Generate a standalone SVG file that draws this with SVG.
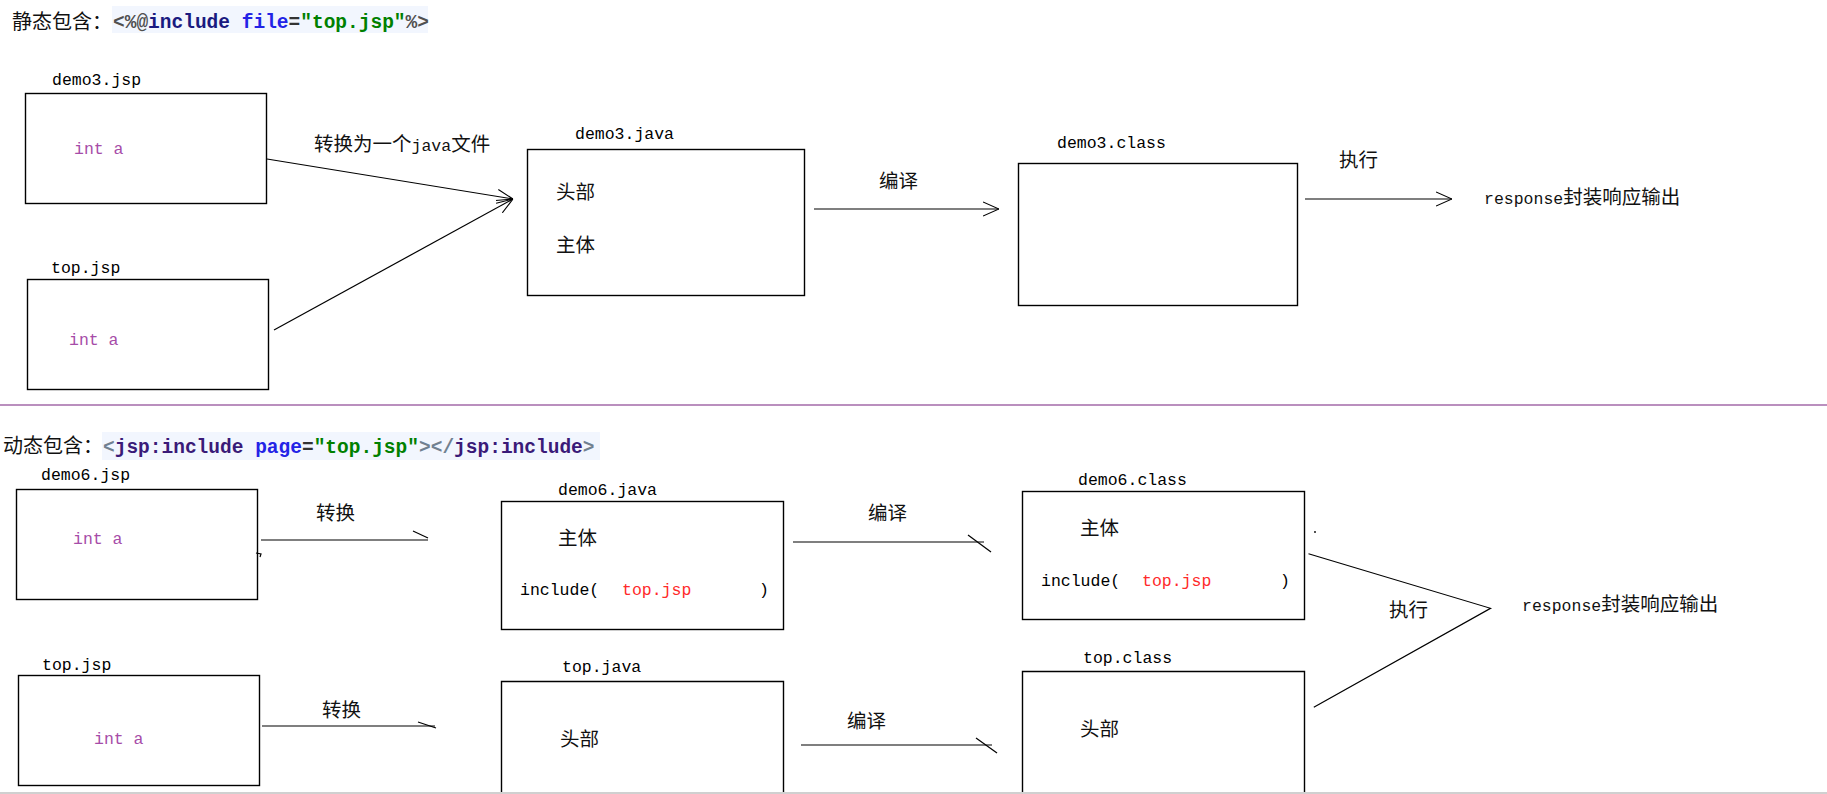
<svg xmlns="http://www.w3.org/2000/svg" width="1827" height="794" viewBox="0 0 1827 794">
<style>
.box{fill:none;stroke:#000;stroke-width:1.4}
.lbl{font-family:"Liberation Mono",monospace;font-size:16.5px;fill:#000}
.cjk{font-family:"Noto Sans CJK SC",sans-serif;font-size:19.5px;fill:#111}
.mono{font-family:"Liberation Mono",monospace;font-size:16.5px}
.var{fill:#a64ca8}
.red{fill:#ff2a2a}
.code{font-family:"Liberation Mono",monospace;font-size:19.5px;font-weight:bold}
.conn{stroke:#000;stroke-width:1.2;fill:none}
.hl{fill:#f2f6fe}
</style>
<defs>
<marker id="open" viewBox="0 0 16 16" refX="16" refY="8" markerWidth="16" markerHeight="16" markerUnits="userSpaceOnUse" orient="auto">
<path d="M0,1 L16,8 L0,15" fill="none" stroke="#000" stroke-width="1.1"/>
</marker>
</defs>
<rect width="1827" height="794" fill="#fff"/>

<g id="title-static">
<rect class="hl" x="112" y="6" width="316" height="27"/>
<text x="12" y="29" class="cjk" style="font-size:20px">静态包含：</text>
<text x="113" y="28" class="code"><tspan fill="#505050">&lt;%@</tspan><tspan fill="#1a1a80">include </tspan><tspan fill="#2323e6">file</tspan><tspan fill="#333">=</tspan><tspan fill="#008000">"top.jsp"</tspan><tspan fill="#505050">%&gt;</tspan></text>
</g>

<g id="demo3-jsp">
<text x="52" y="85" class="lbl">demo3.jsp</text>
<rect class="box" x="25.5" y="93.5" width="241" height="110"/>
<text x="74" y="154" class="lbl var">int a</text>
</g>

<g id="top-jsp-1">
<text x="51" y="273" class="lbl">top.jsp</text>
<rect class="box" x="27.5" y="279.5" width="241" height="110"/>
<text x="69" y="345" class="lbl var">int a</text>
</g>

<g id="demo3-java">
<text x="575" y="139" class="lbl">demo3.java</text>
<rect class="box" x="527.5" y="149.5" width="277" height="146"/>
<text x="556" y="199" class="cjk">头部</text>
<text x="556" y="252" class="cjk">主体</text>
</g>

<g id="demo3-class">
<text x="1057" y="148" class="lbl">demo3.class</text>
<rect class="box" x="1018.5" y="163.5" width="279" height="142"/>
</g>

<g id="output-1">
<text x="1484" y="204" class="cjk"><tspan class="mono">response</tspan>封装响应输出</text>
</g>

<g id="separator">
<line x1="0" y1="405" x2="1827" y2="405" stroke="#a36aa8" stroke-width="1.4"/>
</g>

<g id="title-dynamic">
<rect class="hl" x="102" y="432" width="498" height="28"/>
<text x="3" y="453" class="cjk" style="font-size:20px">动态包含：</text>
<text x="103" y="453" class="code"><tspan fill="#708090">&lt;</tspan><tspan fill="#3a1a78">jsp:include </tspan><tspan fill="#2323e6">page</tspan><tspan fill="#333">=</tspan><tspan fill="#008000">"top.jsp"</tspan><tspan fill="#708090">&gt;&lt;/</tspan><tspan fill="#3a1a78">jsp:include</tspan><tspan fill="#708090">&gt;</tspan></text>
</g>

<g id="demo6-jsp">
<text x="41" y="480" class="lbl">demo6.jsp</text>
<rect class="box" x="16.5" y="489.5" width="241" height="110"/>
<text x="73" y="544" class="lbl var">int a</text>
</g>

<g id="top-jsp-2">
<text x="42" y="670" class="lbl">top.jsp</text>
<rect class="box" x="18.5" y="675.5" width="241" height="110"/>
<text x="94" y="744" class="lbl var">int a</text>
</g>

<g id="demo6-java">
<text x="558" y="495" class="lbl">demo6.java</text>
<rect class="box" x="501.5" y="501.5" width="282" height="128"/>
<text x="558" y="545" class="cjk">主体</text>
<text x="520" y="595" class="lbl">include(</text>
<text x="622" y="595" class="lbl red">top.jsp</text>
<text x="759" y="595" class="lbl">)</text>
</g>

<g id="top-java">
<text x="562" y="672" class="lbl">top.java</text>
<path class="box" d="M501.5,792 V681.5 H783.5 V792"/>
<text x="560" y="746" class="cjk">头部</text>
</g>

<g id="demo6-class">
<text x="1078" y="485" class="lbl">demo6.class</text>
<rect class="box" x="1022.5" y="491.5" width="282" height="128"/>
<text x="1080" y="535" class="cjk">主体</text>
<text x="1041" y="586" class="lbl">include(</text>
<text x="1142" y="586" class="lbl red">top.jsp</text>
<text x="1280" y="586" class="lbl">)</text>
</g>

<g id="top-class">
<text x="1083" y="663" class="lbl">top.class</text>
<path class="box" d="M1022.5,792 V671.5 H1304.5 V792"/>
<text x="1080" y="736" class="cjk">头部</text>
</g>

<g id="output-2">
<text x="1522" y="611" class="cjk"><tspan class="mono">response</tspan>封装响应输出</text>
</g>

<g id="connectors">
<line class="conn" x1="267" y1="159" x2="513" y2="199" marker-end="url(#open)"/>
<line class="conn" x1="274" y1="330" x2="513" y2="199" marker-end="url(#open)"/>
<text x="314" y="151" class="cjk">转换为一个<tspan class="mono">java</tspan>文件</text>
<line class="conn" x1="814" y1="209" x2="999" y2="209" marker-end="url(#open)"/>
<text x="879" y="188" class="cjk">编译</text>
<line class="conn" x1="1305" y1="199" x2="1452" y2="199" marker-end="url(#open)"/>
<text x="1339" y="167" class="cjk">执行</text>

<line class="conn" x1="261" y1="540" x2="428" y2="540"/>
<line class="conn" x1="413" y1="531" x2="428" y2="538"/>
<path class="conn" d="M256,553 L261,554 L260,557" stroke-width="0.8"/>
<text x="316" y="520" class="cjk">转换</text>
<line class="conn" x1="262" y1="726" x2="435" y2="726"/>
<line class="conn" x1="418" y1="722" x2="436" y2="728"/>
<text x="322" y="717" class="cjk">转换</text>
<line class="conn" x1="793" y1="542" x2="984" y2="542"/>
<line class="conn" x1="968" y1="535" x2="991" y2="552"/>
<text x="868" y="520" class="cjk">编译</text>
<line class="conn" x1="801" y1="745" x2="992" y2="745"/>
<line class="conn" x1="976" y1="738" x2="997" y2="753"/>
<text x="847" y="728" class="cjk">编译</text>
<polyline class="conn" points="1308.5,553.7 1490.5,608.3 1313.8,707.3"/>
<circle cx="1315" cy="532" r="0.9" fill="#000"/>
<text x="1389" y="617" class="cjk">执行</text>
</g>

<line x1="0" y1="793" x2="1827" y2="793" stroke="#d0d0d0" stroke-width="2"/>
</svg>
